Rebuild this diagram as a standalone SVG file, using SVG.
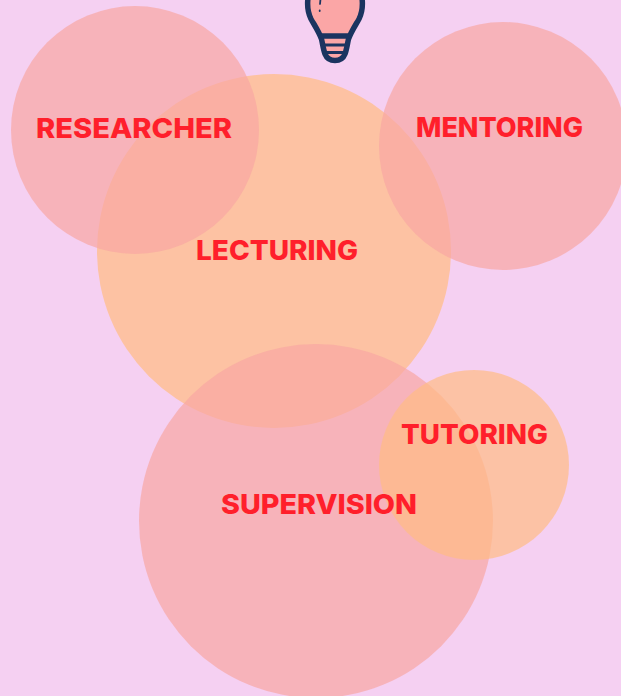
<svg xmlns="http://www.w3.org/2000/svg" width="621" height="696" viewBox="0 0 621 696">
<style>
.pink{fill:#f8a7a3;fill-opacity:.7}
.orange{fill:#ffbc85;fill-opacity:.7}
.t{font-family:"Inter","Liberation Sans",sans-serif;font-weight:800;font-size:27.500px;fill:#ff1f2b;text-anchor:start}
.b{fill:none;stroke:#1b3460;stroke-linecap:round;stroke-linejoin:round}
</style>
<rect width="621" height="696" fill="#f5d0f2"/>
<g id="bulb">
<path d="M308 -2C307 6 308 13 311 19C315 26 319 32 321.500 39C323 46 323.500 50 325 54C327 59 331 60.500 335 60.500C339 60.500 343 59 345 54C346.500 50 347 46 348.500 39C351 32 355 26 359 19C362 13 363 6 362 -2Z" fill="#fba6a6" stroke="none"/>
<path class="b" stroke-width="5.500" d="M308 -2C307 6 308 13 311 19C315 26 319 32 321.500 39C323 46 323.500 50 325 54C327 59 331 60.500 335 60.500C339 60.500 343 59 345 54C346.500 50 347 46 348.500 39C351 32 355 26 359 19C362 13 363 6 362 -2"/>
<path class="b" stroke-width="5.500" d="M322 36H348"/>
<path class="b" stroke-width="2.800" stroke-linecap="butt" d="M325 45H345M327 52.500H343"/>
<path class="b" stroke-width="1.800" d="M320.500 -1L320 4M319.700 10.500V11"/>
</g>
<g id="lecturing"><circle cx="274" cy="251" r="177" fill="#fdc2a3"/></g>
<g id="researcher"><circle class="pink" cx="135" cy="130" r="124"/></g>
<g id="mentoring"><circle class="pink" cx="503" cy="146" r="124"/></g>
<g id="supervision"><circle class="pink" cx="316" cy="521" r="177"/></g>
<g id="tutoring"><circle class="orange" cx="474" cy="465" r="95"/></g>
<g id="labels">
<text class="t" x="36" y="138" textLength="196" lengthAdjust="spacingAndGlyphs">RESEARCHER</text>
<text class="t" x="416" y="136.500" textLength="167" lengthAdjust="spacingAndGlyphs">MENTORING</text>
<text class="t" x="196" y="260" textLength="162" lengthAdjust="spacingAndGlyphs">LECTURING</text>
<text class="t" x="401" y="444" textLength="147" lengthAdjust="spacingAndGlyphs">TUTORING</text>
<text class="t" x="221" y="514" textLength="196" lengthAdjust="spacingAndGlyphs">SUPERVISION</text>
</g>
<g id="connectors"/>
</svg>
